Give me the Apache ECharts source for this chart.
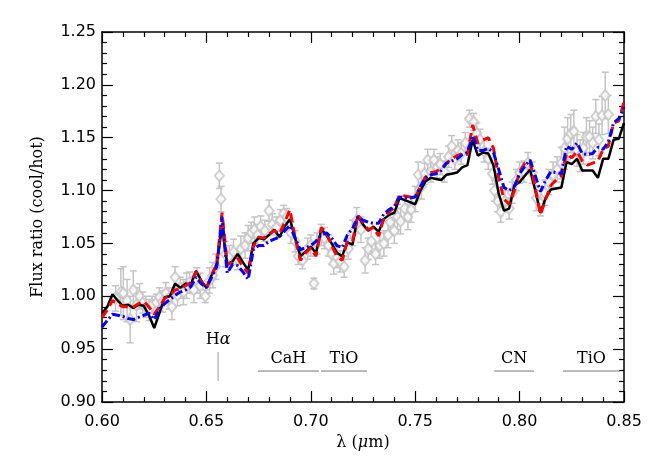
<!DOCTYPE html>
<html>
<head>
<meta charset="utf-8">
<script src="https://cdn.jsdelivr.net/npm/echarts@6/dist/echarts.min.js"></script>
<style>
  html, body { margin: 0; padding: 0; background: #fff; }
  #chart { width: 654px; height: 467px; }
</style>
</head>
<body>
<div id="chart"></div>
<script>
// model wavelength grid (micron)
const lambda = [
  0.6000, 0.6025, 0.6050, 0.6075, 0.6100, 0.6125, 0.6150, 0.6175, 0.6200, 0.6225,
  0.6250, 0.6275, 0.6300, 0.6325, 0.6350, 0.6375, 0.6400, 0.6425, 0.6450, 0.6475,
  0.6500, 0.6525, 0.6550, 0.6575, 0.6600, 0.6625, 0.6650, 0.6675, 0.6700, 0.6725,
  0.6750, 0.6775, 0.6800, 0.6825, 0.6850, 0.6875, 0.6900, 0.6925, 0.6950, 0.6975,
  0.7000, 0.7025, 0.7050, 0.7075, 0.7100, 0.7125, 0.7150, 0.7175, 0.7200, 0.7225,
  0.7250, 0.7275, 0.7300, 0.7325, 0.7350, 0.7375, 0.7400, 0.7425, 0.7450, 0.7475,
  0.7500, 0.7525, 0.7550, 0.7575, 0.7600, 0.7625, 0.7650, 0.7675, 0.7700, 0.7725,
  0.7750, 0.7775, 0.7800, 0.7825, 0.7850, 0.7875, 0.7900, 0.7925, 0.7950, 0.7975,
  0.8000, 0.8025, 0.8050, 0.8075, 0.8100, 0.8125, 0.8150, 0.8175, 0.8200, 0.8225,
  0.8250, 0.8275, 0.8300, 0.8325, 0.8350, 0.8375, 0.8400, 0.8425, 0.8450, 0.8475,
  0.8500
];

// black solid model
const modelBlack = [
  0.984, 0.990, 1.002, 0.996, 0.991, 0.992, 0.989, 0.992, 0.991, 0.982,
  0.970, 0.984, 0.999, 1.000, 1.012, 1.008, 1.012, 1.011, 1.024, 1.015,
  1.008, 1.020, 1.031, 1.066, 1.030, 1.033, 1.040, 1.032, 1.025, 1.050,
  1.055, 1.054, 1.058, 1.063, 1.056, 1.066, 1.073, 1.055, 1.038, 1.042,
  1.047, 1.041, 1.063, 1.058, 1.050, 1.041, 1.038, 1.051, 1.049, 1.076,
  1.068, 1.062, 1.066, 1.061, 1.073, 1.077, 1.079, 1.093, 1.091, 1.089,
  1.087, 1.100, 1.109, 1.112, 1.111, 1.110, 1.115, 1.116, 1.117, 1.122,
  1.124, 1.148, 1.133, 1.136, 1.135, 1.124, 1.097, 1.081, 1.083, 1.105,
  1.108, 1.114, 1.120, 1.100, 1.079, 1.093, 1.101, 1.102, 1.103, 1.127,
  1.125, 1.130, 1.119, 1.119, 1.119, 1.112, 1.130, 1.130, 1.148, 1.149,
  1.164
];

// red dashed model
const modelRed = [
  0.980, 0.987, 0.996, 0.993, 0.990, 0.990, 0.990, 0.993, 0.995, 0.990,
  0.983, 0.990, 0.998, 1.001, 1.006, 1.007, 1.010, 1.013, 1.023, 1.014,
  1.007, 1.020, 1.030, 1.079, 1.030, 1.032, 1.036, 1.028, 1.022, 1.047,
  1.056, 1.055, 1.059, 1.062, 1.059, 1.070, 1.082, 1.055, 1.034, 1.041,
  1.046, 1.038, 1.065, 1.060, 1.048, 1.038, 1.034, 1.052, 1.052, 1.077,
  1.070, 1.063, 1.065, 1.057, 1.074, 1.080, 1.084, 1.096, 1.095, 1.094,
  1.093, 1.104, 1.113, 1.117, 1.118, 1.121, 1.126, 1.130, 1.133, 1.135,
  1.134, 1.162, 1.145, 1.148, 1.150, 1.140, 1.112, 1.092, 1.087, 1.100,
  1.118, 1.126, 1.127, 1.103, 1.077, 1.092, 1.105, 1.110, 1.114, 1.135,
  1.131, 1.137, 1.128, 1.124, 1.126, 1.128, 1.139, 1.142, 1.164, 1.166,
  1.184
];

// blue dash-dot model
const modelBlue = [
  0.971, 0.977, 0.983, 0.982, 0.981, 0.979, 0.978, 0.980, 0.982, 0.984,
  0.978, 0.988, 0.993, 0.997, 1.001, 1.004, 1.006, 1.009, 1.018, 1.012,
  1.008, 1.018, 1.028, 1.075, 1.022, 1.030, 1.029, 1.023, 1.016, 1.044,
  1.048, 1.048, 1.052, 1.054, 1.056, 1.062, 1.067, 1.055, 1.044, 1.046,
  1.048, 1.052, 1.058, 1.060, 1.055, 1.048, 1.046, 1.058, 1.064, 1.075,
  1.072, 1.070, 1.069, 1.069, 1.078, 1.082, 1.085, 1.094, 1.093, 1.093,
  1.094, 1.104, 1.112, 1.115, 1.116, 1.119, 1.126, 1.128, 1.130, 1.134,
  1.136, 1.152, 1.138, 1.138, 1.140, 1.136, 1.120, 1.103, 1.100, 1.104,
  1.116, 1.123, 1.129, 1.114, 1.099, 1.110, 1.118, 1.117, 1.116, 1.142,
  1.139, 1.145, 1.135, 1.134, 1.135, 1.141, 1.139, 1.146, 1.164, 1.168,
  1.179
];

// observed points: wavelength, ratio, error
const obsLambda = [
  0.6065, 0.6090, 0.6102, 0.6120, 0.6135, 0.6150, 0.6165, 0.6180, 0.6195, 0.6210,
  0.6225, 0.6240, 0.6260, 0.6275, 0.6290, 0.6305, 0.6320, 0.6335, 0.6350, 0.6362,
  0.6375, 0.6390, 0.6405, 0.6420, 0.6440, 0.6455, 0.6470, 0.6495, 0.6515, 0.6530,
  0.6545, 0.6562, 0.6570, 0.6590, 0.6610, 0.6630, 0.6650, 0.6665, 0.6685, 0.6700,
  0.6715, 0.6730, 0.6745, 0.6760, 0.6780, 0.6800, 0.6815, 0.6835, 0.6855, 0.6870,
  0.6885, 0.6905, 0.6925, 0.6940, 0.6960, 0.6985, 0.7000, 0.7015, 0.7030, 0.7050,
  0.7065, 0.7085, 0.7100, 0.7110, 0.7125, 0.7140, 0.7160, 0.7180, 0.7200, 0.7220,
  0.7240, 0.7260, 0.7275, 0.7290, 0.7310, 0.7330, 0.7350, 0.7370, 0.7380, 0.7400,
  0.7415, 0.7430, 0.7450, 0.7465, 0.7480, 0.7500, 0.7515, 0.7530, 0.7545, 0.7560,
  0.7575, 0.7590, 0.7605, 0.7620, 0.7640, 0.7660, 0.7675, 0.7690, 0.7705, 0.7720,
  0.7740, 0.7760, 0.7780, 0.7795, 0.7810, 0.7830, 0.7850, 0.7870, 0.7880, 0.7895,
  0.7910, 0.7930, 0.7950, 0.7965, 0.7985, 0.8000, 0.8020, 0.8040, 0.8060, 0.8080,
  0.8100, 0.8120, 0.8140, 0.8160, 0.8180, 0.8200, 0.8215, 0.8230, 0.8245, 0.8260,
  0.8275, 0.8290, 0.8305, 0.8320, 0.8335, 0.8350, 0.8365, 0.8380, 0.8395, 0.8410,
  0.8425
];
const obsRatio = [
  0.998, 1.004, 1.003, 0.996, 0.978, 1.006, 0.992, 1.000, 0.994, 0.990,
  0.987, 0.992, 0.994, 0.999, 0.995, 1.003, 0.998, 0.990, 1.018, 1.001,
  1.008, 1.004, 1.010, 1.013, 1.006, 1.015, 1.010, 1.000, 1.015, 1.020,
  1.028, 1.114, 1.092, 1.040, 1.038, 1.042, 1.035, 1.045, 1.048, 1.055,
  1.060, 1.063, 1.058, 1.066, 1.062, 1.081, 1.068, 1.065, 1.072, 1.078,
  1.075, 1.060, 1.052, 1.038, 1.034, 1.045, 1.048, 1.012, 1.050, 1.058,
  1.055, 1.048, 1.040, 1.031, 1.037, 1.033, 1.028, 1.045, 1.060, 1.072,
  1.063, 1.034, 1.045, 1.052, 1.040, 1.048, 1.050, 1.058, 1.070, 1.062,
  1.075, 1.071, 1.083, 1.075, 1.082, 1.092, 1.115, 1.104, 1.116, 1.129,
  1.118, 1.129, 1.122, 1.125, 1.118, 1.132, 1.142, 1.130, 1.138, 1.135,
  1.145, 1.168, 1.165, 1.154, 1.148, 1.137, 1.130, 1.116, 1.100, 1.090,
  1.080, 1.090, 1.083, 1.098, 1.110, 1.117, 1.118, 1.126, 1.117, 1.093,
  1.088, 1.098, 1.108, 1.115, 1.120, 1.126, 1.140, 1.149, 1.154, 1.156,
  1.138, 1.133, 1.140, 1.151, 1.151, 1.145, 1.170, 1.148, 1.171, 1.190,
  1.172
];
const obsErr = [
  0.012, 0.022, 0.025, 0.020, 0.022, 0.018, 0.016, 0.012, 0.010, 0.010,
  0.010, 0.008, 0.008, 0.009, 0.010, 0.010, 0.010, 0.012, 0.010, 0.010,
  0.010, 0.012, 0.012, 0.010, 0.012, 0.012, 0.012, 0.006, 0.012, 0.012,
  0.012, 0.012, 0.012, 0.012, 0.010, 0.012, 0.010, 0.012, 0.012, 0.012,
  0.010, 0.012, 0.010, 0.010, 0.010, 0.010, 0.010, 0.010, 0.010, 0.008,
  0.008, 0.010, 0.010, 0.008, 0.008, 0.010, 0.010, 0.005, 0.010, 0.010,
  0.010, 0.010, 0.010, 0.010, 0.010, 0.010, 0.010, 0.010, 0.012, 0.012,
  0.012, 0.012, 0.010, 0.012, 0.010, 0.012, 0.012, 0.012, 0.012, 0.012,
  0.012, 0.012, 0.012, 0.012, 0.012, 0.012, 0.012, 0.012, 0.010, 0.010,
  0.010, 0.010, 0.010, 0.010, 0.010, 0.010, 0.010, 0.010, 0.010, 0.010,
  0.010, 0.008, 0.008, 0.010, 0.010, 0.010, 0.010, 0.010, 0.010, 0.010,
  0.010, 0.010, 0.010, 0.010, 0.010, 0.010, 0.010, 0.010, 0.010, 0.012,
  0.012, 0.012, 0.012, 0.012, 0.012, 0.015, 0.020, 0.020, 0.018, 0.020,
  0.015, 0.015, 0.015, 0.018, 0.015, 0.015, 0.016, 0.015, 0.018, 0.022,
  0.018
];

// molecular band ranges (micron)
const bandNames = ["CaH", "TiO", "CN", "TiO"];
const bandStart = [0.6747, 0.7049, 0.7878, 0.8208];
const bandEnd = [0.7039, 0.7269, 0.8069, 0.8481];
const halphaLambda = 0.6556;

const SERIF = "'DejaVu Serif', 'Liberation Serif', serif";
const SANS = "'DejaVu Sans', sans-serif";

const chart = echarts.init(document.getElementById("chart"), null, { renderer: "canvas" });

const zip = (xs, ys) => xs.map((x, i) => [x, ys[i]]);
const obsData = obsLambda.map((x, i) => [x, obsRatio[i], obsErr[i]]);
const bandData = bandNames.map((n, i) => [bandStart[i], bandEnd[i], n]);

const axisLineStyle = { color: "#000", width: 1.5 };

const option = {
  animation: false,
  backgroundColor: "#fff",
  grid: { left: 102, right: 30, top: 32, bottom: 65 },
  xAxis: [
    {
      type: "value",
      min: 0.6,
      max: 0.85,
      interval: 0.05,
      position: "bottom",
      axisLine: { onZero: false, lineStyle: axisLineStyle },
      axisTick: { inside: true, length: 11, lineStyle: { color: "#000", width: 1.2 } },
      minorTick: { show: true, splitNumber: 5, length: 5, lineStyle: { color: "#000", width: 1.2 } },
      splitLine: { show: false },
      axisLabel: {
        margin: 12,
        fontFamily: SANS,
        fontSize: 16,
        color: "#000",
        formatter: (v) => v.toFixed(2),
      },
      name: "{t|λ (}{i|μ}{t|m)}",
      nameLocation: "middle",
      nameGap: 33,
      nameTextStyle: {
        rich: {
          t: { fontFamily: SERIF, fontSize: 16, color: "#000" },
          i: { fontFamily: SERIF, fontSize: 16, fontStyle: "italic", color: "#000" },
        },
      },
    },
    {
      type: "value",
      min: 0.6,
      max: 0.85,
      interval: 0.05,
      position: "top",
      axisLine: { onZero: false, lineStyle: axisLineStyle },
      axisTick: { inside: true, length: 11, lineStyle: { color: "#000", width: 1.2 } },
      minorTick: { show: true, splitNumber: 5, length: 5, lineStyle: { color: "#000", width: 1.2 } },
      splitLine: { show: false },
      axisLabel: { show: false },
    },
  ],
  yAxis: [
    {
      type: "value",
      min: 0.9,
      max: 1.25,
      interval: 0.05,
      position: "left",
      axisLine: { show: true, onZero: false, lineStyle: axisLineStyle },
      axisTick: { show: true, inside: true, length: 11, lineStyle: { color: "#000", width: 1.2 } },
      minorTick: { show: true, splitNumber: 5, length: 5, lineStyle: { color: "#000", width: 1.2 } },
      splitLine: { show: false },
      axisLabel: {
        margin: 6,
        fontFamily: SANS,
        fontSize: 16,
        color: "#000",
        formatter: (v) => v.toFixed(2),
      },
      name: "Flux ratio (cool/hot)",
      nameLocation: "middle",
      nameRotate: 90,
      nameGap: 56,
      nameTextStyle: { fontFamily: SERIF, fontSize: 16, color: "#000" },
    },
    {
      type: "value",
      min: 0.9,
      max: 1.25,
      interval: 0.05,
      position: "right",
      axisLine: { show: true, onZero: false, lineStyle: axisLineStyle },
      axisTick: { show: true, inside: true, length: 11, lineStyle: { color: "#000", width: 1.2 } },
      minorTick: { show: true, splitNumber: 5, length: 5, lineStyle: { color: "#000", width: 1.2 } },
      splitLine: { show: false },
      axisLabel: { show: false },
    },
  ],
  series: [
    {
      name: "error bars",
      type: "custom",
      xAxisIndex: 0,
      yAxisIndex: 0,
      data: obsData,
      z: 1,
      renderItem: function (params, api) {
        const x = api.value(0);
        const y = api.value(1);
        const e = api.value(2);
        const top = api.coord([x, y + e]);
        const bot = api.coord([x, y - e]);
        const cap = 3.5;
        const style = { stroke: "#c4c4c4", lineWidth: 1.5 };
        return {
          type: "group",
          children: [
            { type: "line", shape: { x1: top[0], y1: top[1], x2: bot[0], y2: bot[1] }, style: style },
            { type: "line", shape: { x1: top[0] - cap, y1: top[1], x2: top[0] + cap, y2: top[1] }, style: style },
            { type: "line", shape: { x1: bot[0] - cap, y1: bot[1], x2: bot[0] + cap, y2: bot[1] }, style: style },
          ],
        };
      },
    },
    {
      name: "observed",
      type: "scatter",
      data: obsData.map((d) => [d[0], d[1]]),
      symbol: "emptyDiamond",
      symbolSize: [9, 11],
      itemStyle: { color: "#c4c4c4", borderColor: "#c4c4c4", borderWidth: 1.5 },
      z: 2,
    },
    {
      name: "model 1",
      type: "line",
      data: zip(lambda, modelBlack),
      showSymbol: false,
      symbol: "none",
      lineStyle: { color: "#000", width: 2.5, type: "solid" },
      z: 3,
    },
    {
      name: "model 2",
      type: "line",
      data: zip(lambda, modelRed),
      showSymbol: false,
      symbol: "none",
      lineStyle: { color: "#ff0000", width: 3, type: [9, 5] },
      z: 4,
    },
    {
      name: "model 3",
      type: "line",
      data: zip(lambda, modelBlue),
      showSymbol: false,
      symbol: "none",
      lineStyle: { color: "#0000ff", width: 3, type: [8, 3, 2, 3] },
      z: 5,
    },
    {
      name: "bands",
      type: "custom",
      data: bandData,
      z: 6,
      renderItem: function (params, api) {
        const a = api.coord([api.value(0), 0.9293]);
        const b = api.coord([api.value(1), 0.9293]);
        const label = bandData[params.dataIndex][2];
        return {
          type: "group",
          children: [
            { type: "line", shape: { x1: a[0], y1: a[1], x2: b[0], y2: b[1] }, style: { stroke: "#777", lineWidth: 1 } },
            {
              type: "text",
              x: (a[0] + b[0]) / 2,
              y: a[1] - 4,
              style: { text: label, font: "16px " + SERIF, fill: "#000", align: "center", verticalAlign: "bottom" },
            },
          ],
        };
      },
    },
    {
      name: "halpha",
      type: "custom",
      data: [[halphaLambda]],
      z: 6,
      renderItem: function (params, api) {
        const a = api.coord([api.value(0), 0.9473]);
        const b = api.coord([api.value(0), 0.9199]);
        return {
          type: "group",
          children: [
            { type: "line", shape: { x1: a[0], y1: a[1], x2: b[0], y2: b[1] }, style: { stroke: "#999", lineWidth: 1 } },
            {
              type: "text",
              x: a[0],
              y: a[1] - 4,
              style: {
                text: "{n|H}{g|α}",
                align: "center",
                verticalAlign: "bottom",
                rich: {
                  n: { fontFamily: SERIF, fontSize: 16, fill: "#000", color: "#000" },
                  g: { fontFamily: SERIF, fontSize: 16, fontStyle: "italic", fill: "#000", color: "#000" },
                },
              },
            },
          ],
        };
      },
    },
  ],
};

chart.setOption(option);
window.addEventListener("resize", () => chart.resize());
</script>
</body>
</html>
